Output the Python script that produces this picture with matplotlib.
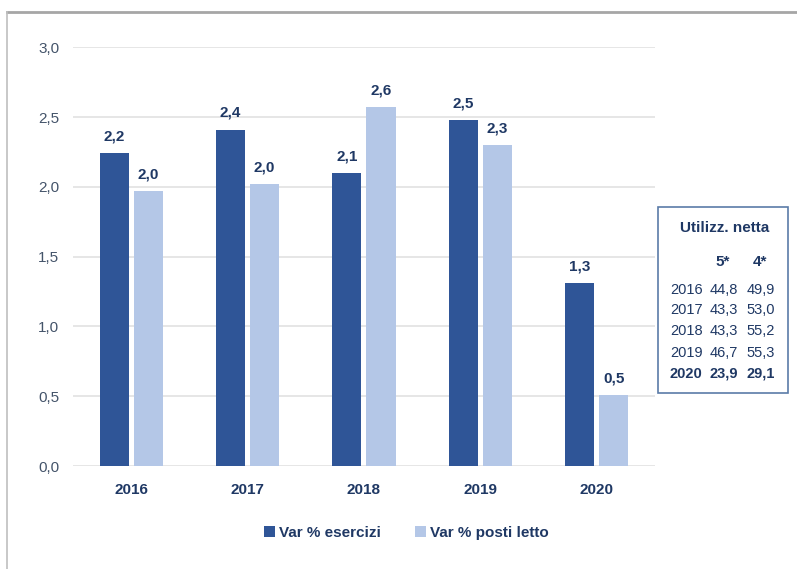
import matplotlib
matplotlib.use("Agg")
import matplotlib.pyplot as plt
from matplotlib.patches import Rectangle
from matplotlib.lines import Line2D

plt.rcParams['font.family'] = ['Liberation Sans Narrow', 'Liberation Sans', 'DejaVu Sans']

years = ['2016', '2017', '2018', '2019', '2020']
var_esercizi = [2.24, 2.41, 2.10, 2.48, 1.31]
var_posti_letto = [1.97, 2.02, 2.57, 2.30, 0.51]

util_years = ['2016', '2017', '2018', '2019', '2020']
util_5 = ['44,8', '43,3', '43,3', '46,7', '23,9']
util_4 = ['49,9', '53,0', '55,2', '55,3', '29,1']

dark = '#2F5597'
light = '#B4C7E7'
text_col = '#1F3864'
tick_col = '#44546A'


def fmt(v):
    return ('%.1f' % v).replace('.', ',')


fig = plt.figure(figsize=(7.97, 5.69), dpi=100)
ax = fig.add_axes([0.0916, 0.181, 0.730, 0.736])

x = list(range(len(years)))
w = 0.25
gap = 0.022
b1 = ax.bar([i - w / 2 - gap for i in x], var_esercizi, w, color=dark, label='Var % esercizi', zorder=3)
b2 = ax.bar([i + w / 2 + gap for i in x], var_posti_letto, w, color=light, label='Var % posti letto', zorder=3)

for bars, vals in ((b1, var_esercizi), (b2, var_posti_letto)):
    for r, v in zip(bars, vals):
        ax.text(r.get_x() + r.get_width() / 2, v + 0.07, fmt(v), ha='center', va='bottom',
                fontsize=11, fontweight='bold', color=text_col)

ax.set_xlim(-0.5, 4.5)
ax.set_ylim(0, 3.0)
ax.set_yticks([0, 0.5, 1.0, 1.5, 2.0, 2.5, 3.0])
ax.set_yticklabels([fmt(t) for t in [0, 0.5, 1.0, 1.5, 2.0, 2.5, 3.0]], fontsize=11, color=tick_col)
ax.set_xticks(x)
ax.set_xticklabels(years, fontsize=11, fontweight='bold', color=text_col)
ax.tick_params(length=0, pad=10)
ax.tick_params(axis='x', pad=12)
ax.grid(axis='y', color='#E2E2E2', linewidth=1.2, zorder=0)
for s in ax.spines.values():
    s.set_visible(False)

leg = fig.legend(handles=[b1, b2], loc='center', bbox_to_anchor=(0.51, 0.063), ncol=2,
                 frameon=False, fontsize=11, handlelength=0.7, handleheight=0.7,
                 handletextpad=0.3, columnspacing=2.2)
for t in leg.get_texts():
    t.set_color(text_col)
    t.set_fontweight('bold')

# outer frame lines
fig.add_artist(Line2D([0.009, 1.0], [0.979, 0.979], color='#A6A6A6', linewidth=2))
fig.add_artist(Line2D([0.009, 0.009], [0.979, 0.0], color='#BFBFBF', linewidth=1.2))

# side box with net utilisation
fig.add_artist(Rectangle((0.826, 0.309), 0.163, 0.327, transform=fig.transFigure,
                         fill=False, edgecolor='#5B7BA8', linewidth=1.2))
fig.text(0.909, 0.599, 'Utilizz. netta', ha='center', va='center', fontsize=11,
         fontweight='bold', color=text_col)
fig.text(0.907, 0.540, '5*', ha='center', va='center', fontsize=11, fontweight='bold', color=text_col)
fig.text(0.953, 0.540, '4*', ha='center', va='center', fontsize=11, fontweight='bold', color=text_col)
row_y = [290, 310, 331, 353, 374]
for i, (yr, a, b) in enumerate(zip(util_years, util_5, util_4)):
    yy = 1 - row_y[i] / 569
    wt = 'bold' if i == len(util_years) - 1 else 'normal'
    fig.text(0.861, yy, yr, ha='center', va='center', fontsize=10.5, fontweight=wt, color=text_col)
    fig.text(0.908, yy, a, ha='center', va='center', fontsize=10.5, fontweight=wt, color=text_col)
    fig.text(0.954, yy, b, ha='center', va='center', fontsize=10.5, fontweight=wt, color=text_col)

fig.savefig('out.png', dpi=100)
